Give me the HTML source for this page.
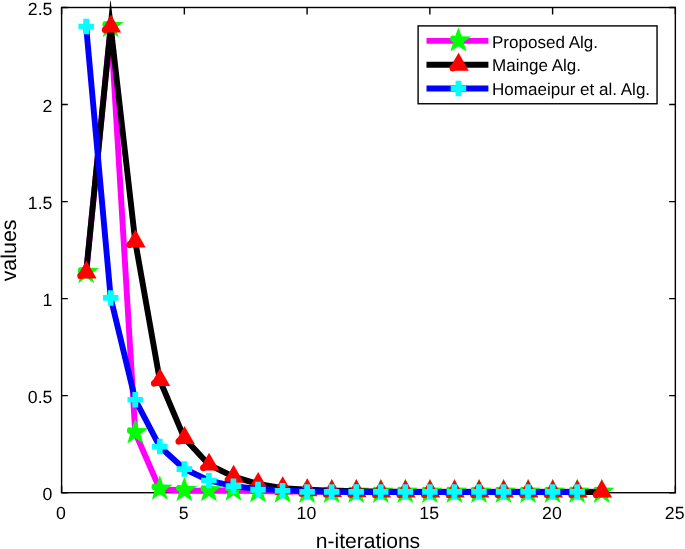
<!DOCTYPE html>
<html><head><meta charset="utf-8"><title>chart</title>
<style>html,body{margin:0;padding:0;background:#fff;}body{width:685px;height:549px;overflow:hidden;font-family:"Liberation Sans",sans-serif;}</style>
</head><body>
<svg width="685" height="549" viewBox="0 0 685 549" style="display:block;will-change:transform;text-rendering:geometricPrecision">
<rect width="685" height="549" fill="#fff"/>
<rect x="61.6" y="7.5" width="613.75" height="485.2" fill="none" stroke="#000" stroke-width="1.4"/>
<path d="M61.60,492.7v-7.0M61.60,7.5v7.0M184.35,492.7v-7.0M184.35,7.5v7.0M307.10,492.7v-7.0M307.10,7.5v7.0M429.85,492.7v-7.0M429.85,7.5v7.0M552.60,492.7v-7.0M552.60,7.5v7.0M675.35,492.7v-7.0M675.35,7.5v7.0M61.6,492.70h6.2M675.35,492.70h-6.2M61.6,395.66h6.2M675.35,395.66h-6.2M61.6,298.62h6.2M675.35,298.62h-6.2M61.6,201.58h6.2M675.35,201.58h-6.2M61.6,104.54h6.2M675.35,104.54h-6.2M61.6,7.50h6.2M675.35,7.50h-6.2" stroke="#000" stroke-width="1.4" fill="none"/>
<g font-family="Liberation Sans, sans-serif" font-size="17.7" fill="#000">
<text x="60.90" y="519.4" text-anchor="middle">0</text>
<text x="183.65" y="519.4" text-anchor="middle">5</text>
<text x="306.40" y="519.4" text-anchor="middle">10</text>
<text x="429.15" y="519.4" text-anchor="middle">15</text>
<text x="551.90" y="519.4" text-anchor="middle">20</text>
<text x="674.65" y="519.4" text-anchor="middle">25</text>
<text x="52.4" y="500.20" text-anchor="end">0</text>
<text x="52.4" y="403.16" text-anchor="end">0.5</text>
<text x="52.4" y="306.12" text-anchor="end">1</text>
<text x="52.4" y="209.08" text-anchor="end">1.5</text>
<text x="52.4" y="112.04" text-anchor="end">2</text>
<text x="52.4" y="15.00" text-anchor="end">2.5</text>
</g>
<text x="368.0" y="547.9" text-anchor="middle" font-family="Liberation Sans, sans-serif" font-size="21.1" fill="#000">n-iterations</text>
<text transform="translate(15.9,250.4) rotate(-90)" text-anchor="middle" font-family="Liberation Sans, sans-serif" font-size="21.4" fill="#000">values</text>
<polyline points="86.15,272.57 110.70,26.52 135.25,432.71 159.80,489.10 184.35,490.46 208.90,490.66 233.45,490.08 258.00,491.14 282.55,491.43 307.10,491.63 331.65,491.75 356.20,491.75 380.75,491.75 405.30,491.75 429.85,491.75 454.40,491.75 478.95,491.75 503.50,491.75 528.05,491.75 552.60,491.75 577.15,491.75 601.70,491.75" fill="none" stroke="#ff00ff" stroke-width="5.9" stroke-linejoin="miter" stroke-miterlimit="4" stroke-linecap="butt"/>
<path transform="translate(86.15,272.32)" d="M0.00,-13.50 L3.23,-4.45 L12.84,-4.17 L5.23,1.70 L7.94,10.92 L0.00,5.50 L-7.94,10.92 L-5.23,1.70 L-7.0,0.9 Q-8.3,0.2 -8.3,-1.8 Q-8.3,-4.9 -6.2,-5.1 L-3.6,-5.0 L-3.23,-4.45Z" fill="#00ff00"/>
<path transform="translate(110.70,26.27)" d="M0.00,-13.50 L3.23,-4.45 L12.84,-4.17 L5.23,1.70 L7.94,10.92 L0.00,5.50 L-7.94,10.92 L-5.23,1.70 L-7.0,0.9 Q-8.3,0.2 -8.3,-1.8 Q-8.3,-4.9 -6.2,-5.1 L-3.6,-5.0 L-3.23,-4.45Z" fill="#00ff00"/>
<path transform="translate(135.25,432.46)" d="M0.00,-13.50 L3.23,-4.45 L12.84,-4.17 L5.23,1.70 L7.94,10.92 L0.00,5.50 L-7.94,10.92 L-5.23,1.70 L-7.0,0.9 Q-8.3,0.2 -8.3,-1.8 Q-8.3,-4.9 -6.2,-5.1 L-3.6,-5.0 L-3.23,-4.45Z" fill="#00ff00"/>
<path transform="translate(159.80,488.85)" d="M0.00,-13.50 L3.23,-4.45 L12.84,-4.17 L5.23,1.70 L7.94,10.92 L0.00,5.50 L-7.94,10.92 L-5.23,1.70 L-7.0,0.9 Q-8.3,0.2 -8.3,-1.8 Q-8.3,-4.9 -6.2,-5.1 L-3.6,-5.0 L-3.23,-4.45Z" fill="#00ff00"/>
<path transform="translate(184.35,490.21)" d="M0.00,-13.50 L3.23,-4.45 L12.84,-4.17 L5.23,1.70 L7.94,10.92 L0.00,5.50 L-7.94,10.92 L-5.23,1.70 L-7.0,0.9 Q-8.3,0.2 -8.3,-1.8 Q-8.3,-4.9 -6.2,-5.1 L-3.6,-5.0 L-3.23,-4.45Z" fill="#00ff00"/>
<path transform="translate(208.90,490.41)" d="M0.00,-13.50 L3.23,-4.45 L12.84,-4.17 L5.23,1.70 L7.94,10.92 L0.00,5.50 L-7.94,10.92 L-5.23,1.70 L-7.0,0.9 Q-8.3,0.2 -8.3,-1.8 Q-8.3,-4.9 -6.2,-5.1 L-3.6,-5.0 L-3.23,-4.45Z" fill="#00ff00"/>
<path transform="translate(233.45,489.83)" d="M0.00,-13.50 L3.23,-4.45 L12.84,-4.17 L5.23,1.70 L7.94,10.92 L0.00,5.50 L-7.94,10.92 L-5.23,1.70 L-7.0,0.9 Q-8.3,0.2 -8.3,-1.8 Q-8.3,-4.9 -6.2,-5.1 L-3.6,-5.0 L-3.23,-4.45Z" fill="#00ff00"/>
<path transform="translate(258.00,491.48)" d="M0.00,-13.50 L3.23,-4.45 L12.84,-4.17 L5.23,1.70 L7.94,10.92 L0.00,5.50 L-7.94,10.92 L-5.23,1.70 L-7.0,0.9 Q-8.3,0.2 -8.3,-1.8 Q-8.3,-4.9 -6.2,-5.1 L-3.6,-5.0 L-3.23,-4.45Z" fill="#00ff00"/>
<path transform="translate(282.55,491.77)" d="M0.00,-13.50 L3.23,-4.45 L12.84,-4.17 L5.23,1.70 L7.94,10.92 L0.00,5.50 L-7.94,10.92 L-5.23,1.70 L-7.0,0.9 Q-8.3,0.2 -8.3,-1.8 Q-8.3,-4.9 -6.2,-5.1 L-3.6,-5.0 L-3.23,-4.45Z" fill="#00ff00"/>
<path transform="translate(307.10,491.96)" d="M0.00,-13.50 L3.23,-4.45 L12.84,-4.17 L5.23,1.70 L7.94,10.92 L0.00,5.50 L-7.94,10.92 L-5.23,1.70 L-7.0,0.9 Q-8.3,0.2 -8.3,-1.8 Q-8.3,-4.9 -6.2,-5.1 L-3.6,-5.0 L-3.23,-4.45Z" fill="#00ff00"/>
<path transform="translate(331.65,491.96)" d="M0.00,-13.50 L3.23,-4.45 L12.84,-4.17 L5.23,1.70 L7.94,10.92 L0.00,5.50 L-7.94,10.92 L-5.23,1.70 L-7.0,0.9 Q-8.3,0.2 -8.3,-1.8 Q-8.3,-4.9 -6.2,-5.1 L-3.6,-5.0 L-3.23,-4.45Z" fill="#00ff00"/>
<path transform="translate(356.20,491.96)" d="M0.00,-13.50 L3.23,-4.45 L12.84,-4.17 L5.23,1.70 L7.94,10.92 L0.00,5.50 L-7.94,10.92 L-5.23,1.70 L-7.0,0.9 Q-8.3,0.2 -8.3,-1.8 Q-8.3,-4.9 -6.2,-5.1 L-3.6,-5.0 L-3.23,-4.45Z" fill="#00ff00"/>
<path transform="translate(380.75,491.96)" d="M0.00,-13.50 L3.23,-4.45 L12.84,-4.17 L5.23,1.70 L7.94,10.92 L0.00,5.50 L-7.94,10.92 L-5.23,1.70 L-7.0,0.9 Q-8.3,0.2 -8.3,-1.8 Q-8.3,-4.9 -6.2,-5.1 L-3.6,-5.0 L-3.23,-4.45Z" fill="#00ff00"/>
<path transform="translate(405.30,491.96)" d="M0.00,-13.50 L3.23,-4.45 L12.84,-4.17 L5.23,1.70 L7.94,10.92 L0.00,5.50 L-7.94,10.92 L-5.23,1.70 L-7.0,0.9 Q-8.3,0.2 -8.3,-1.8 Q-8.3,-4.9 -6.2,-5.1 L-3.6,-5.0 L-3.23,-4.45Z" fill="#00ff00"/>
<path transform="translate(429.85,491.96)" d="M0.00,-13.50 L3.23,-4.45 L12.84,-4.17 L5.23,1.70 L7.94,10.92 L0.00,5.50 L-7.94,10.92 L-5.23,1.70 L-7.0,0.9 Q-8.3,0.2 -8.3,-1.8 Q-8.3,-4.9 -6.2,-5.1 L-3.6,-5.0 L-3.23,-4.45Z" fill="#00ff00"/>
<path transform="translate(454.40,491.96)" d="M0.00,-13.50 L3.23,-4.45 L12.84,-4.17 L5.23,1.70 L7.94,10.92 L0.00,5.50 L-7.94,10.92 L-5.23,1.70 L-7.0,0.9 Q-8.3,0.2 -8.3,-1.8 Q-8.3,-4.9 -6.2,-5.1 L-3.6,-5.0 L-3.23,-4.45Z" fill="#00ff00"/>
<path transform="translate(478.95,491.96)" d="M0.00,-13.50 L3.23,-4.45 L12.84,-4.17 L5.23,1.70 L7.94,10.92 L0.00,5.50 L-7.94,10.92 L-5.23,1.70 L-7.0,0.9 Q-8.3,0.2 -8.3,-1.8 Q-8.3,-4.9 -6.2,-5.1 L-3.6,-5.0 L-3.23,-4.45Z" fill="#00ff00"/>
<path transform="translate(503.50,491.96)" d="M0.00,-13.50 L3.23,-4.45 L12.84,-4.17 L5.23,1.70 L7.94,10.92 L0.00,5.50 L-7.94,10.92 L-5.23,1.70 L-7.0,0.9 Q-8.3,0.2 -8.3,-1.8 Q-8.3,-4.9 -6.2,-5.1 L-3.6,-5.0 L-3.23,-4.45Z" fill="#00ff00"/>
<path transform="translate(528.05,491.96)" d="M0.00,-13.50 L3.23,-4.45 L12.84,-4.17 L5.23,1.70 L7.94,10.92 L0.00,5.50 L-7.94,10.92 L-5.23,1.70 L-7.0,0.9 Q-8.3,0.2 -8.3,-1.8 Q-8.3,-4.9 -6.2,-5.1 L-3.6,-5.0 L-3.23,-4.45Z" fill="#00ff00"/>
<path transform="translate(552.60,491.96)" d="M0.00,-13.50 L3.23,-4.45 L12.84,-4.17 L5.23,1.70 L7.94,10.92 L0.00,5.50 L-7.94,10.92 L-5.23,1.70 L-7.0,0.9 Q-8.3,0.2 -8.3,-1.8 Q-8.3,-4.9 -6.2,-5.1 L-3.6,-5.0 L-3.23,-4.45Z" fill="#00ff00"/>
<path transform="translate(577.15,491.96)" d="M0.00,-13.50 L3.23,-4.45 L12.84,-4.17 L5.23,1.70 L7.94,10.92 L0.00,5.50 L-7.94,10.92 L-5.23,1.70 L-7.0,0.9 Q-8.3,0.2 -8.3,-1.8 Q-8.3,-4.9 -6.2,-5.1 L-3.6,-5.0 L-3.23,-4.45Z" fill="#00ff00"/>
<path transform="translate(601.70,491.96)" d="M0.00,-13.50 L3.23,-4.45 L12.84,-4.17 L5.23,1.70 L7.94,10.92 L0.00,5.50 L-7.94,10.92 L-5.23,1.70 L-7.0,0.9 Q-8.3,0.2 -8.3,-1.8 Q-8.3,-4.9 -6.2,-5.1 L-3.6,-5.0 L-3.23,-4.45Z" fill="#00ff00"/>
<clipPath id="cp"><rect x="0" y="0.8" width="685" height="549"/></clipPath>
<g clip-path="url(#cp)"><polyline points="86.15,272.49 110.70,26.60 135.25,241.50 159.80,380.16 184.35,438.11 208.90,464.64 233.45,476.68 258.00,484.00 282.55,488.23 307.10,489.59 331.65,490.66 356.20,491.24 380.75,491.63 405.30,491.92 429.85,492.10 454.40,492.10 478.95,492.10 503.50,492.10 528.05,492.10 552.60,492.10 577.15,492.10 601.70,492.10" fill="none" stroke="#000000" stroke-width="5.9" stroke-linejoin="miter" stroke-miterlimit="40" stroke-linecap="butt"/></g>
<path transform="translate(86.15,272.49)" d="M0.2,-12.0 L10.4,5.95 L-3.2,5.95 Q-4.5,6.8 -6.2,6.7 Q-8.4,6.5 -8.9,4.2 Q-9.2,1.5 -7.6,0.3 L-6.5,-0.4 Z" fill="#ff0000"/>
<path transform="translate(110.70,26.60)" d="M0.2,-12.0 L10.4,5.95 L-3.2,5.95 Q-4.5,6.8 -6.2,6.7 Q-8.4,6.5 -8.9,4.2 Q-9.2,1.5 -7.6,0.3 L-6.5,-0.4 Z" fill="#ff0000"/>
<path transform="translate(135.25,241.50)" d="M0.2,-12.0 L10.4,5.95 L-3.2,5.95 Q-4.5,6.8 -6.2,6.7 Q-8.4,6.5 -8.9,4.2 Q-9.2,1.5 -7.6,0.3 L-6.5,-0.4 Z" fill="#ff0000"/>
<path transform="translate(159.80,380.16)" d="M0.2,-12.0 L10.4,5.95 L-3.2,5.95 Q-4.5,6.8 -6.2,6.7 Q-8.4,6.5 -8.9,4.2 Q-9.2,1.5 -7.6,0.3 L-6.5,-0.4 Z" fill="#ff0000"/>
<path transform="translate(184.35,438.11)" d="M0.2,-12.0 L10.4,5.95 L-3.2,5.95 Q-4.5,6.8 -6.2,6.7 Q-8.4,6.5 -8.9,4.2 Q-9.2,1.5 -7.6,0.3 L-6.5,-0.4 Z" fill="#ff0000"/>
<path transform="translate(208.90,464.64)" d="M0.2,-12.0 L10.4,5.95 L-3.2,5.95 Q-4.5,6.8 -6.2,6.7 Q-8.4,6.5 -8.9,4.2 Q-9.2,1.5 -7.6,0.3 L-6.5,-0.4 Z" fill="#ff0000"/>
<path transform="translate(233.45,476.68)" d="M0.2,-12.0 L10.4,5.95 L-3.2,5.95 Q-4.5,6.8 -6.2,6.7 Q-8.4,6.5 -8.9,4.2 Q-9.2,1.5 -7.6,0.3 L-6.5,-0.4 Z" fill="#ff0000"/>
<path transform="translate(258.00,484.00)" d="M0.2,-12.0 L10.4,5.95 L-3.2,5.95 Q-4.5,6.8 -6.2,6.7 Q-8.4,6.5 -8.9,4.2 Q-9.2,1.5 -7.6,0.3 L-6.5,-0.4 Z" fill="#ff0000"/>
<path transform="translate(282.55,488.23)" d="M0.2,-12.0 L10.4,5.95 L-3.2,5.95 Q-4.5,6.8 -6.2,6.7 Q-8.4,6.5 -8.9,4.2 Q-9.2,1.5 -7.6,0.3 L-6.5,-0.4 Z" fill="#ff0000"/>
<path transform="translate(307.10,490.27)" d="M0.2,-12.0 L10.4,5.95 L-3.2,5.95 Q-4.5,6.8 -6.2,6.7 Q-8.4,6.5 -8.9,4.2 Q-9.2,1.5 -7.6,0.3 L-6.5,-0.4 Z" fill="#ff0000"/>
<path transform="translate(331.65,491.14)" d="M0.2,-12.0 L10.4,5.95 L-3.2,5.95 Q-4.5,6.8 -6.2,6.7 Q-8.4,6.5 -8.9,4.2 Q-9.2,1.5 -7.6,0.3 L-6.5,-0.4 Z" fill="#ff0000"/>
<path transform="translate(356.20,491.34)" d="M0.2,-12.0 L10.4,5.95 L-3.2,5.95 Q-4.5,6.8 -6.2,6.7 Q-8.4,6.5 -8.9,4.2 Q-9.2,1.5 -7.6,0.3 L-6.5,-0.4 Z" fill="#ff0000"/>
<path transform="translate(380.75,491.43)" d="M0.2,-12.0 L10.4,5.95 L-3.2,5.95 Q-4.5,6.8 -6.2,6.7 Q-8.4,6.5 -8.9,4.2 Q-9.2,1.5 -7.6,0.3 L-6.5,-0.4 Z" fill="#ff0000"/>
<path transform="translate(405.30,491.43)" d="M0.2,-12.0 L10.4,5.95 L-3.2,5.95 Q-4.5,6.8 -6.2,6.7 Q-8.4,6.5 -8.9,4.2 Q-9.2,1.5 -7.6,0.3 L-6.5,-0.4 Z" fill="#ff0000"/>
<path transform="translate(429.85,491.43)" d="M0.2,-12.0 L10.4,5.95 L-3.2,5.95 Q-4.5,6.8 -6.2,6.7 Q-8.4,6.5 -8.9,4.2 Q-9.2,1.5 -7.6,0.3 L-6.5,-0.4 Z" fill="#ff0000"/>
<path transform="translate(454.40,491.43)" d="M0.2,-12.0 L10.4,5.95 L-3.2,5.95 Q-4.5,6.8 -6.2,6.7 Q-8.4,6.5 -8.9,4.2 Q-9.2,1.5 -7.6,0.3 L-6.5,-0.4 Z" fill="#ff0000"/>
<path transform="translate(478.95,491.43)" d="M0.2,-12.0 L10.4,5.95 L-3.2,5.95 Q-4.5,6.8 -6.2,6.7 Q-8.4,6.5 -8.9,4.2 Q-9.2,1.5 -7.6,0.3 L-6.5,-0.4 Z" fill="#ff0000"/>
<path transform="translate(503.50,491.43)" d="M0.2,-12.0 L10.4,5.95 L-3.2,5.95 Q-4.5,6.8 -6.2,6.7 Q-8.4,6.5 -8.9,4.2 Q-9.2,1.5 -7.6,0.3 L-6.5,-0.4 Z" fill="#ff0000"/>
<path transform="translate(528.05,491.43)" d="M0.2,-12.0 L10.4,5.95 L-3.2,5.95 Q-4.5,6.8 -6.2,6.7 Q-8.4,6.5 -8.9,4.2 Q-9.2,1.5 -7.6,0.3 L-6.5,-0.4 Z" fill="#ff0000"/>
<path transform="translate(552.60,491.43)" d="M0.2,-12.0 L10.4,5.95 L-3.2,5.95 Q-4.5,6.8 -6.2,6.7 Q-8.4,6.5 -8.9,4.2 Q-9.2,1.5 -7.6,0.3 L-6.5,-0.4 Z" fill="#ff0000"/>
<path transform="translate(577.15,491.43)" d="M0.2,-12.0 L10.4,5.95 L-3.2,5.95 Q-4.5,6.8 -6.2,6.7 Q-8.4,6.5 -8.9,4.2 Q-9.2,1.5 -7.6,0.3 L-6.5,-0.4 Z" fill="#ff0000"/>
<path transform="translate(601.70,491.43)" d="M0.2,-12.0 L10.4,5.95 L-3.2,5.95 Q-4.5,6.8 -6.2,6.7 Q-8.4,6.5 -8.9,4.2 Q-9.2,1.5 -7.6,0.3 L-6.5,-0.4 Z" fill="#ff0000"/>
<polyline points="86.15,26.52 110.70,297.90 135.25,399.77 159.80,446.57 184.35,469.04 208.90,480.50 233.45,486.19 258.00,489.01 282.55,490.08 307.10,491.24 331.65,491.82 356.20,492.02 380.75,492.02 405.30,492.02 429.85,492.02 454.40,492.02 478.95,492.02 503.50,492.02 528.05,492.02 552.60,492.02 577.15,492.02" fill="none" stroke="#0000ff" stroke-width="5.9" stroke-linejoin="miter" stroke-miterlimit="40" stroke-linecap="butt"/>
<path d="M78.40,23.67h15.50v5.70h-15.50zM83.30,18.77h5.70v15.50h-5.70z" fill="#00ffff"/>
<path d="M102.95,295.05h15.50v5.70h-15.50zM107.85,290.15h5.70v15.50h-5.70z" fill="#00ffff"/>
<path d="M127.50,396.92h15.50v5.70h-15.50zM132.40,392.02h5.70v15.50h-5.70z" fill="#00ffff"/>
<path d="M152.05,443.72h15.50v5.70h-15.50zM156.95,438.82h5.70v15.50h-5.70z" fill="#00ffff"/>
<path d="M176.60,466.19h15.50v5.70h-15.50zM181.50,461.29h5.70v15.50h-5.70z" fill="#00ffff"/>
<path d="M201.15,477.65h15.50v5.70h-15.50zM206.05,472.75h5.70v15.50h-5.70z" fill="#00ffff"/>
<path d="M225.70,483.34h15.50v5.70h-15.50zM230.60,478.44h5.70v15.50h-5.70z" fill="#00ffff"/>
<path d="M250.25,486.74h15.50v5.70h-15.50zM255.15,481.84h5.70v15.50h-5.70z" fill="#00ffff"/>
<path d="M274.80,487.91h15.50v5.70h-15.50zM279.70,483.01h5.70v15.50h-5.70z" fill="#00ffff"/>
<path d="M299.35,489.07h15.50v5.70h-15.50zM304.25,484.17h5.70v15.50h-5.70z" fill="#00ffff"/>
<path d="M323.90,489.07h15.50v5.70h-15.50zM328.80,484.17h5.70v15.50h-5.70z" fill="#00ffff"/>
<path d="M348.45,489.07h15.50v5.70h-15.50zM353.35,484.17h5.70v15.50h-5.70z" fill="#00ffff"/>
<path d="M373.00,489.07h15.50v5.70h-15.50zM377.90,484.17h5.70v15.50h-5.70z" fill="#00ffff"/>
<path d="M397.55,489.07h15.50v5.70h-15.50zM402.45,484.17h5.70v15.50h-5.70z" fill="#00ffff"/>
<path d="M422.10,489.07h15.50v5.70h-15.50zM427.00,484.17h5.70v15.50h-5.70z" fill="#00ffff"/>
<path d="M446.65,489.07h15.50v5.70h-15.50zM451.55,484.17h5.70v15.50h-5.70z" fill="#00ffff"/>
<path d="M471.20,489.07h15.50v5.70h-15.50zM476.10,484.17h5.70v15.50h-5.70z" fill="#00ffff"/>
<path d="M495.75,489.07h15.50v5.70h-15.50zM500.65,484.17h5.70v15.50h-5.70z" fill="#00ffff"/>
<path d="M520.30,489.07h15.50v5.70h-15.50zM525.20,484.17h5.70v15.50h-5.70z" fill="#00ffff"/>
<path d="M544.85,489.07h15.50v5.70h-15.50zM549.75,484.17h5.70v15.50h-5.70z" fill="#00ffff"/>
<path d="M569.40,489.07h15.50v5.70h-15.50zM574.30,484.17h5.70v15.50h-5.70z" fill="#00ffff"/>
<rect x="418.1" y="25.9" width="238.94999999999993" height="77.85" fill="#fff" stroke="#000" stroke-width="1.4"/>
<path d="M426.5,40.9H488.4" stroke="#ff00ff" stroke-width="5.9"/>
<path transform="translate(458.40,40.65)" d="M0.00,-13.50 L3.23,-4.45 L12.84,-4.17 L5.23,1.70 L7.94,10.92 L0.00,5.50 L-7.94,10.92 L-5.23,1.70 L-7.0,0.9 Q-8.3,0.2 -8.3,-1.8 Q-8.3,-4.9 -6.2,-5.1 L-3.6,-5.0 L-3.23,-4.45Z" fill="#00ff00"/>
<text x="492.0" y="48.40" font-family="Liberation Sans, sans-serif" font-size="17.05" fill="#000">Proposed Alg.</text>
<path d="M426.5,64.7H488.4" stroke="#000" stroke-width="5.9"/>
<path transform="translate(458.40,64.70)" d="M0.2,-12.0 L10.4,5.95 L-3.2,5.95 Q-4.5,6.8 -6.2,6.7 Q-8.4,6.5 -8.9,4.2 Q-9.2,1.5 -7.6,0.3 L-6.5,-0.4 Z" fill="#ff0000"/>
<text x="492.0" y="71.30" font-family="Liberation Sans, sans-serif" font-size="17.05" fill="#000">Mainge Alg.</text>
<path d="M426.5,88.5H488.4" stroke="#0000ff" stroke-width="5.9"/>
<path d="M450.65,85.65h15.50v5.70h-15.50zM455.55,80.75h5.70v15.50h-5.70z" fill="#00ffff"/>
<text x="492.0" y="95.00" font-family="Liberation Sans, sans-serif" font-size="17.05" fill="#000">Homaeipur et al. Alg.</text>
</svg>
</body></html>
